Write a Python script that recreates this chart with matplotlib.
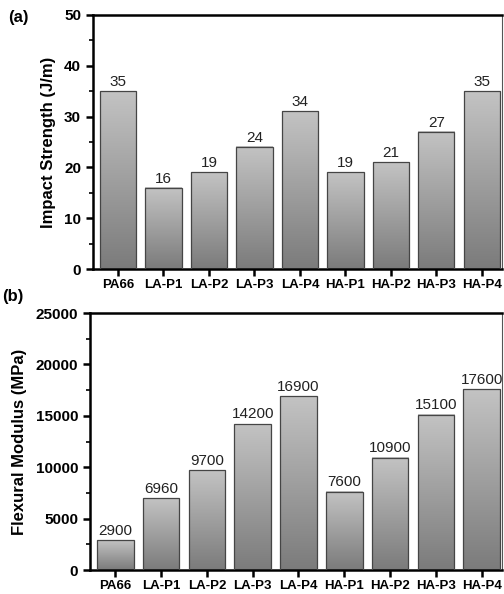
import numpy as np
import matplotlib.pyplot as plt
from matplotlib.ticker import MultipleLocator
from matplotlib.colors import LinearSegmentedColormap

plt.rcParams['font.family'] = ['Liberation Sans', 'DejaVu Sans']

samples = ['PA66', 'LA-P1', 'LA-P2', 'LA-P3', 'LA-P4', 'HA-P1', 'HA-P2', 'HA-P3', 'HA-P4']
impact = [35, 16, 19, 24, 31, 19, 21, 27, 35]
impact_labels = ['35', '16', '19', '24', '34', '19', '21', '27', '35']
modulus = [2900, 6960, 9700, 14200, 16900, 7600, 10900, 15100, 17600]
modulus_labels = ['2900', '6960', '9700', '14200', '16900', '7600', '10900', '15100', '17600']

grad = np.linspace(0, 1, 256).reshape(-1, 1)
bar_cmap = LinearSegmentedColormap.from_list('bar', ['#7b7b7b', '#c3c3c3'])


def gradient_bars(ax, vals, labels, ymax, off):
    x = np.arange(len(vals))
    w = 0.8
    bars = ax.bar(x, vals, width=w, facecolor='none', edgecolor='#454545', linewidth=0.9, zorder=3)
    for b in bars:
        x0 = b.get_x()
        h = b.get_height()
        ax.imshow(grad, cmap=bar_cmap, aspect='auto',
                  extent=[x0, x0 + w, 0, h], origin='lower', zorder=2,
                  interpolation='bilinear')
    for xi, v, t in zip(x, vals, labels):
        ax.text(xi, v + off, t, ha='center', va='bottom', fontsize=11, color='#222222')
    ax.set_xlim(-0.55, 8.45)
    ax.set_ylim(0, ymax)
    ax.set_xticks(x)
    for s in ['left', 'bottom', 'top']:
        ax.spines[s].set_linewidth(1.8)
    ax.spines['right'].set_linewidth(0.8)
    ax.spines['right'].set_color('#555555')
    ax.tick_params(axis='both', direction='out', width=1.8, length=5)
    ax.tick_params(axis='y', labelsize=11)
    ax.tick_params(axis='y', which='minor', direction='out', width=1.2, length=3)
    ax.tick_params(axis='x', pad=2)
    ax.set_xticklabels(samples, fontweight='bold', fontsize=9.5)


fig = plt.figure(figsize=(5.04, 5.94), dpi=100)

ax1 = fig.add_axes([0.1845, 0.547, 0.812, 0.428])
gradient_bars(ax1, impact, impact_labels, 50, 0.4)
ax1.yaxis.set_major_locator(MultipleLocator(10))
ax1.yaxis.set_minor_locator(MultipleLocator(5))
ax1.set_ylabel('Impact Strength (J/m)', fontsize=12, fontweight='bold', labelpad=6)
fig.text(0.016, 0.97, '(a)', fontsize=12, fontweight='bold', va='center')

ax2 = fig.add_axes([0.1786, 0.0404, 0.818, 0.4326])
gradient_bars(ax2, modulus, modulus_labels, 25000, 250)
ax2.yaxis.set_major_locator(MultipleLocator(5000))
ax2.yaxis.set_minor_locator(MultipleLocator(2500))
ax2.set_ylabel('Flexural Modulus (MPa)', fontsize=12, fontweight='bold', labelpad=6)
fig.text(0.004, 0.5, '(b)', fontsize=12, fontweight='bold', va='center')

for t in ax1.get_yticklabels() + ax2.get_yticklabels():
    t.set_fontweight('bold')

fig.savefig('out.png', dpi=100)
